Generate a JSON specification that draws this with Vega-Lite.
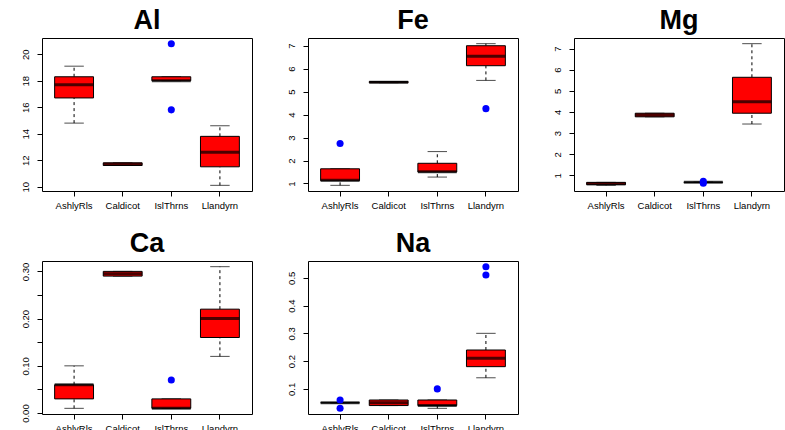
{
  "$schema": "https://vega.github.io/schema/vega-lite/v6.json",
  "padding": {"left": 19, "top": 6, "right": 0, "bottom": 0},
  "background": "white",
  "datasets": {
    "boxes": [
      {"el": "Al", "site": "AshlyRls", "lo": 14.8, "q1": 16.7, "med": 17.7, "q3": 18.3, "hi": 19.1},
      {"el": "Al", "site": "Caldicot", "lo": 11.6, "q1": 11.6, "med": 11.7, "q3": 11.8, "hi": 11.8},
      {"el": "Al", "site": "IslThrns", "lo": 18.0, "q1": 18.0, "med": 18.0, "q3": 18.3, "hi": 18.3},
      {"el": "Al", "site": "Llandyrn", "lo": 10.1, "q1": 11.5, "med": 12.6, "q3": 13.8, "hi": 14.6},
      {"el": "Fe", "site": "AshlyRls", "lo": 0.92, "q1": 1.12, "med": 1.14, "q3": 1.64, "hi": 1.64},
      {"el": "Fe", "site": "Caldicot", "lo": 5.39, "q1": 5.39, "med": 5.415, "q3": 5.44, "hi": 5.44},
      {"el": "Fe", "site": "IslThrns", "lo": 1.28, "q1": 1.50, "med": 1.51, "q3": 1.88, "hi": 2.39},
      {"el": "Fe", "site": "Llandyrn", "lo": 5.49, "q1": 6.13, "med": 6.54, "q3": 7.00, "hi": 7.09},
      {"el": "Mg", "site": "AshlyRls", "lo": 0.53, "q1": 0.56, "med": 0.60, "q3": 0.67, "hi": 0.67},
      {"el": "Mg", "site": "Caldicot", "lo": 3.77, "q1": 3.77, "med": 3.855, "q3": 3.94, "hi": 3.94},
      {"el": "Mg", "site": "IslThrns", "lo": 0.67, "q1": 0.67, "med": 0.67, "q3": 0.68, "hi": 0.68},
      {"el": "Mg", "site": "Llandyrn", "lo": 3.43, "q1": 3.94, "med": 4.485, "q3": 5.64, "hi": 7.23},
      {"el": "Ca", "site": "AshlyRls", "lo": 0.01, "q1": 0.03, "med": 0.06, "q3": 0.06, "hi": 0.10},
      {"el": "Ca", "site": "Caldicot", "lo": 0.29, "q1": 0.29, "med": 0.295, "q3": 0.30, "hi": 0.30},
      {"el": "Ca", "site": "IslThrns", "lo": 0.01, "q1": 0.01, "med": 0.01, "q3": 0.03, "hi": 0.03},
      {"el": "Ca", "site": "Llandyrn", "lo": 0.12, "q1": 0.16, "med": 0.20, "q3": 0.22, "hi": 0.31},
      {"el": "Na", "site": "AshlyRls", "lo": 0.05, "q1": 0.05, "med": 0.05, "q3": 0.05, "hi": 0.05},
      {"el": "Na", "site": "Caldicot", "lo": 0.04, "q1": 0.04, "med": 0.05, "q3": 0.06, "hi": 0.06},
      {"el": "Na", "site": "IslThrns", "lo": 0.03, "q1": 0.04, "med": 0.04, "q3": 0.06, "hi": 0.06},
      {"el": "Na", "site": "Llandyrn", "lo": 0.14, "q1": 0.18, "med": 0.21, "q3": 0.24, "hi": 0.30}
    ],
    "outliers": [
      {"el": "Al", "site": "IslThrns", "value": 15.8},
      {"el": "Al", "site": "IslThrns", "value": 20.8},
      {"el": "Fe", "site": "AshlyRls", "value": 2.74},
      {"el": "Fe", "site": "Llandyrn", "value": 4.26},
      {"el": "Mg", "site": "IslThrns", "value": 0.63},
      {"el": "Mg", "site": "IslThrns", "value": 0.72},
      {"el": "Ca", "site": "IslThrns", "value": 0.07},
      {"el": "Na", "site": "AshlyRls", "value": 0.03},
      {"el": "Na", "site": "AshlyRls", "value": 0.06},
      {"el": "Na", "site": "IslThrns", "value": 0.10},
      {"el": "Na", "site": "Llandyrn", "value": 0.51},
      {"el": "Na", "site": "Llandyrn", "value": 0.54}
    ]
  },
  "columns": 3,
  "bounds": "flush",
  "spacing": {"row": 70, "column": 56},
  "concat": [
    {
      "width": 210, "height": 153, "title": "Al",
      "layer": [
        {"data": {"name": "boxes"}, "transform": [{"filter": "datum.el == 'Al'"}], "mark": {"type": "rule", "strokeDash": [3, 3], "color": "black"},
         "encoding": {"x": {"field": "site", "type": "nominal", "title": null, "sort": ["AshlyRls", "Caldicot", "IslThrns", "Llandyrn"], "scale": {"paddingInner": 0.2, "paddingOuter": 0.26}, "axis": {"labelAngle": 0, "labelOverlap": false}},
                      "y": {"field": "lo", "type": "quantitative", "title": null, "scale": {"domain": [9.672, 21.228], "nice": false, "zero": false}, "axis": {"values": [10, 12, 14, 16, 18, 20], "tickCount": 50, "format": "d", "labelOverlap": false}}, "y2": {"field": "q1"}}},
        {"data": {"name": "boxes"}, "transform": [{"filter": "datum.el == 'Al'"}], "mark": {"type": "rule", "strokeDash": [3, 3], "color": "black"},
         "encoding": {"x": {"field": "site", "type": "nominal", "title": null, "sort": ["AshlyRls", "Caldicot", "IslThrns", "Llandyrn"]}, "y": {"field": "q3", "type": "quantitative", "title": null}, "y2": {"field": "hi"}}},
        {"data": {"name": "boxes"}, "transform": [{"filter": "datum.el == 'Al'"}], "mark": {"type": "tick", "size": 19.44, "thickness": 1, "color": "black"},
         "encoding": {"x": {"field": "site", "type": "nominal", "title": null, "sort": ["AshlyRls", "Caldicot", "IslThrns", "Llandyrn"]}, "y": {"field": "lo", "type": "quantitative", "title": null}}},
        {"data": {"name": "boxes"}, "transform": [{"filter": "datum.el == 'Al'"}], "mark": {"type": "tick", "size": 19.44, "thickness": 1, "color": "black"},
         "encoding": {"x": {"field": "site", "type": "nominal", "title": null, "sort": ["AshlyRls", "Caldicot", "IslThrns", "Llandyrn"]}, "y": {"field": "hi", "type": "quantitative", "title": null}}},
        {"data": {"name": "boxes"}, "transform": [{"filter": "datum.el == 'Al'"}], "mark": {"type": "bar", "fill": "#ff0000", "stroke": "black", "strokeWidth": 1},
         "encoding": {"x": {"field": "site", "type": "nominal", "title": null, "sort": ["AshlyRls", "Caldicot", "IslThrns", "Llandyrn"]}, "y": {"field": "q1", "type": "quantitative", "title": null}, "y2": {"field": "q3"}}},
        {"data": {"name": "boxes"}, "transform": [{"filter": "datum.el == 'Al'"}], "mark": {"type": "tick", "size": 38.89, "thickness": 3, "color": "black"},
         "encoding": {"x": {"field": "site", "type": "nominal", "title": null, "sort": ["AshlyRls", "Caldicot", "IslThrns", "Llandyrn"]}, "y": {"field": "med", "type": "quantitative", "title": null}}},
        {"data": {"name": "outliers"}, "transform": [{"filter": "datum.el == 'Al'"}], "mark": {"type": "circle", "size": 50, "color": "#0000ff", "opacity": 1},
         "encoding": {"x": {"field": "site", "type": "nominal", "title": null, "sort": ["AshlyRls", "Caldicot", "IslThrns", "Llandyrn"]}, "y": {"field": "value", "type": "quantitative", "title": null}}}
      ]
    },
    {
      "width": 210, "height": 153, "title": "Fe",
      "layer": [
        {"data": {"name": "boxes"}, "transform": [{"filter": "datum.el == 'Fe'"}], "mark": {"type": "rule", "strokeDash": [3, 3], "color": "black"},
         "encoding": {"x": {"field": "site", "type": "nominal", "title": null, "sort": ["AshlyRls", "Caldicot", "IslThrns", "Llandyrn"], "scale": {"paddingInner": 0.2, "paddingOuter": 0.26}, "axis": {"labelAngle": 0, "labelOverlap": false}},
                      "y": {"field": "lo", "type": "quantitative", "title": null, "scale": {"domain": [0.6732, 7.3368], "nice": false, "zero": false}, "axis": {"values": [1, 2, 3, 4, 5, 6, 7], "tickCount": 50, "format": "d", "labelOverlap": false}}, "y2": {"field": "q1"}}},
        {"data": {"name": "boxes"}, "transform": [{"filter": "datum.el == 'Fe'"}], "mark": {"type": "rule", "strokeDash": [3, 3], "color": "black"},
         "encoding": {"x": {"field": "site", "type": "nominal", "title": null, "sort": ["AshlyRls", "Caldicot", "IslThrns", "Llandyrn"]}, "y": {"field": "q3", "type": "quantitative", "title": null}, "y2": {"field": "hi"}}},
        {"data": {"name": "boxes"}, "transform": [{"filter": "datum.el == 'Fe'"}], "mark": {"type": "tick", "size": 19.44, "thickness": 1, "color": "black"},
         "encoding": {"x": {"field": "site", "type": "nominal", "title": null, "sort": ["AshlyRls", "Caldicot", "IslThrns", "Llandyrn"]}, "y": {"field": "lo", "type": "quantitative", "title": null}}},
        {"data": {"name": "boxes"}, "transform": [{"filter": "datum.el == 'Fe'"}], "mark": {"type": "tick", "size": 19.44, "thickness": 1, "color": "black"},
         "encoding": {"x": {"field": "site", "type": "nominal", "title": null, "sort": ["AshlyRls", "Caldicot", "IslThrns", "Llandyrn"]}, "y": {"field": "hi", "type": "quantitative", "title": null}}},
        {"data": {"name": "boxes"}, "transform": [{"filter": "datum.el == 'Fe'"}], "mark": {"type": "bar", "fill": "#ff0000", "stroke": "black", "strokeWidth": 1},
         "encoding": {"x": {"field": "site", "type": "nominal", "title": null, "sort": ["AshlyRls", "Caldicot", "IslThrns", "Llandyrn"]}, "y": {"field": "q1", "type": "quantitative", "title": null}, "y2": {"field": "q3"}}},
        {"data": {"name": "boxes"}, "transform": [{"filter": "datum.el == 'Fe'"}], "mark": {"type": "tick", "size": 38.89, "thickness": 3, "color": "black"},
         "encoding": {"x": {"field": "site", "type": "nominal", "title": null, "sort": ["AshlyRls", "Caldicot", "IslThrns", "Llandyrn"]}, "y": {"field": "med", "type": "quantitative", "title": null}}},
        {"data": {"name": "outliers"}, "transform": [{"filter": "datum.el == 'Fe'"}], "mark": {"type": "circle", "size": 50, "color": "#0000ff", "opacity": 1},
         "encoding": {"x": {"field": "site", "type": "nominal", "title": null, "sort": ["AshlyRls", "Caldicot", "IslThrns", "Llandyrn"]}, "y": {"field": "value", "type": "quantitative", "title": null}}}
      ]
    },
    {
      "width": 210, "height": 153, "title": "Mg",
      "layer": [
        {"data": {"name": "boxes"}, "transform": [{"filter": "datum.el == 'Mg'"}], "mark": {"type": "rule", "strokeDash": [3, 3], "color": "black"},
         "encoding": {"x": {"field": "site", "type": "nominal", "title": null, "sort": ["AshlyRls", "Caldicot", "IslThrns", "Llandyrn"], "scale": {"paddingInner": 0.2, "paddingOuter": 0.26}, "axis": {"labelAngle": 0, "labelOverlap": false}},
                      "y": {"field": "lo", "type": "quantitative", "title": null, "scale": {"domain": [0.262, 7.498], "nice": false, "zero": false}, "axis": {"values": [1, 2, 3, 4, 5, 6, 7], "tickCount": 50, "format": "d", "labelOverlap": false}}, "y2": {"field": "q1"}}},
        {"data": {"name": "boxes"}, "transform": [{"filter": "datum.el == 'Mg'"}], "mark": {"type": "rule", "strokeDash": [3, 3], "color": "black"},
         "encoding": {"x": {"field": "site", "type": "nominal", "title": null, "sort": ["AshlyRls", "Caldicot", "IslThrns", "Llandyrn"]}, "y": {"field": "q3", "type": "quantitative", "title": null}, "y2": {"field": "hi"}}},
        {"data": {"name": "boxes"}, "transform": [{"filter": "datum.el == 'Mg'"}], "mark": {"type": "tick", "size": 19.44, "thickness": 1, "color": "black"},
         "encoding": {"x": {"field": "site", "type": "nominal", "title": null, "sort": ["AshlyRls", "Caldicot", "IslThrns", "Llandyrn"]}, "y": {"field": "lo", "type": "quantitative", "title": null}}},
        {"data": {"name": "boxes"}, "transform": [{"filter": "datum.el == 'Mg'"}], "mark": {"type": "tick", "size": 19.44, "thickness": 1, "color": "black"},
         "encoding": {"x": {"field": "site", "type": "nominal", "title": null, "sort": ["AshlyRls", "Caldicot", "IslThrns", "Llandyrn"]}, "y": {"field": "hi", "type": "quantitative", "title": null}}},
        {"data": {"name": "boxes"}, "transform": [{"filter": "datum.el == 'Mg'"}], "mark": {"type": "bar", "fill": "#ff0000", "stroke": "black", "strokeWidth": 1},
         "encoding": {"x": {"field": "site", "type": "nominal", "title": null, "sort": ["AshlyRls", "Caldicot", "IslThrns", "Llandyrn"]}, "y": {"field": "q1", "type": "quantitative", "title": null}, "y2": {"field": "q3"}}},
        {"data": {"name": "boxes"}, "transform": [{"filter": "datum.el == 'Mg'"}], "mark": {"type": "tick", "size": 38.89, "thickness": 3, "color": "black"},
         "encoding": {"x": {"field": "site", "type": "nominal", "title": null, "sort": ["AshlyRls", "Caldicot", "IslThrns", "Llandyrn"]}, "y": {"field": "med", "type": "quantitative", "title": null}}},
        {"data": {"name": "outliers"}, "transform": [{"filter": "datum.el == 'Mg'"}], "mark": {"type": "circle", "size": 50, "color": "#0000ff", "opacity": 1},
         "encoding": {"x": {"field": "site", "type": "nominal", "title": null, "sort": ["AshlyRls", "Caldicot", "IslThrns", "Llandyrn"]}, "y": {"field": "value", "type": "quantitative", "title": null}}}
      ]
    },
    {
      "width": 210, "height": 153, "title": "Ca",
      "layer": [
        {"data": {"name": "boxes"}, "transform": [{"filter": "datum.el == 'Ca'"}], "mark": {"type": "rule", "strokeDash": [3, 3], "color": "black"},
         "encoding": {"x": {"field": "site", "type": "nominal", "title": null, "sort": ["AshlyRls", "Caldicot", "IslThrns", "Llandyrn"], "scale": {"paddingInner": 0.2, "paddingOuter": 0.26}, "axis": {"labelAngle": 0, "labelOverlap": false}},
                      "y": {"field": "lo", "type": "quantitative", "title": null, "scale": {"domain": [-0.002, 0.322], "nice": false, "zero": false}, "axis": {"values": [0, 0.05, 0.1, 0.15, 0.2, 0.25, 0.3], "tickCount": 50, "labelOverlap": false, "labelExpr": "round(datum.value * 100) % 10 == 0 ? format(datum.value, '.2f') : ''"}}, "y2": {"field": "q1"}}},
        {"data": {"name": "boxes"}, "transform": [{"filter": "datum.el == 'Ca'"}], "mark": {"type": "rule", "strokeDash": [3, 3], "color": "black"},
         "encoding": {"x": {"field": "site", "type": "nominal", "title": null, "sort": ["AshlyRls", "Caldicot", "IslThrns", "Llandyrn"]}, "y": {"field": "q3", "type": "quantitative", "title": null}, "y2": {"field": "hi"}}},
        {"data": {"name": "boxes"}, "transform": [{"filter": "datum.el == 'Ca'"}], "mark": {"type": "tick", "size": 19.44, "thickness": 1, "color": "black"},
         "encoding": {"x": {"field": "site", "type": "nominal", "title": null, "sort": ["AshlyRls", "Caldicot", "IslThrns", "Llandyrn"]}, "y": {"field": "lo", "type": "quantitative", "title": null}}},
        {"data": {"name": "boxes"}, "transform": [{"filter": "datum.el == 'Ca'"}], "mark": {"type": "tick", "size": 19.44, "thickness": 1, "color": "black"},
         "encoding": {"x": {"field": "site", "type": "nominal", "title": null, "sort": ["AshlyRls", "Caldicot", "IslThrns", "Llandyrn"]}, "y": {"field": "hi", "type": "quantitative", "title": null}}},
        {"data": {"name": "boxes"}, "transform": [{"filter": "datum.el == 'Ca'"}], "mark": {"type": "bar", "fill": "#ff0000", "stroke": "black", "strokeWidth": 1},
         "encoding": {"x": {"field": "site", "type": "nominal", "title": null, "sort": ["AshlyRls", "Caldicot", "IslThrns", "Llandyrn"]}, "y": {"field": "q1", "type": "quantitative", "title": null}, "y2": {"field": "q3"}}},
        {"data": {"name": "boxes"}, "transform": [{"filter": "datum.el == 'Ca'"}], "mark": {"type": "tick", "size": 38.89, "thickness": 3, "color": "black"},
         "encoding": {"x": {"field": "site", "type": "nominal", "title": null, "sort": ["AshlyRls", "Caldicot", "IslThrns", "Llandyrn"]}, "y": {"field": "med", "type": "quantitative", "title": null}}},
        {"data": {"name": "outliers"}, "transform": [{"filter": "datum.el == 'Ca'"}], "mark": {"type": "circle", "size": 50, "color": "#0000ff", "opacity": 1},
         "encoding": {"x": {"field": "site", "type": "nominal", "title": null, "sort": ["AshlyRls", "Caldicot", "IslThrns", "Llandyrn"]}, "y": {"field": "value", "type": "quantitative", "title": null}}}
      ]
    },
    {
      "width": 210, "height": 153, "title": "Na",
      "layer": [
        {"data": {"name": "boxes"}, "transform": [{"filter": "datum.el == 'Na'"}], "mark": {"type": "rule", "strokeDash": [3, 3], "color": "black"},
         "encoding": {"x": {"field": "site", "type": "nominal", "title": null, "sort": ["AshlyRls", "Caldicot", "IslThrns", "Llandyrn"], "scale": {"paddingInner": 0.2, "paddingOuter": 0.26}, "axis": {"labelAngle": 0, "labelOverlap": false}},
                      "y": {"field": "lo", "type": "quantitative", "title": null, "scale": {"domain": [0.0096, 0.5604], "nice": false, "zero": false}, "axis": {"values": [0.1, 0.2, 0.3, 0.4, 0.5], "tickCount": 50, "format": ".1f", "labelOverlap": false}}, "y2": {"field": "q1"}}},
        {"data": {"name": "boxes"}, "transform": [{"filter": "datum.el == 'Na'"}], "mark": {"type": "rule", "strokeDash": [3, 3], "color": "black"},
         "encoding": {"x": {"field": "site", "type": "nominal", "title": null, "sort": ["AshlyRls", "Caldicot", "IslThrns", "Llandyrn"]}, "y": {"field": "q3", "type": "quantitative", "title": null}, "y2": {"field": "hi"}}},
        {"data": {"name": "boxes"}, "transform": [{"filter": "datum.el == 'Na'"}], "mark": {"type": "tick", "size": 19.44, "thickness": 1, "color": "black"},
         "encoding": {"x": {"field": "site", "type": "nominal", "title": null, "sort": ["AshlyRls", "Caldicot", "IslThrns", "Llandyrn"]}, "y": {"field": "lo", "type": "quantitative", "title": null}}},
        {"data": {"name": "boxes"}, "transform": [{"filter": "datum.el == 'Na'"}], "mark": {"type": "tick", "size": 19.44, "thickness": 1, "color": "black"},
         "encoding": {"x": {"field": "site", "type": "nominal", "title": null, "sort": ["AshlyRls", "Caldicot", "IslThrns", "Llandyrn"]}, "y": {"field": "hi", "type": "quantitative", "title": null}}},
        {"data": {"name": "boxes"}, "transform": [{"filter": "datum.el == 'Na'"}], "mark": {"type": "bar", "fill": "#ff0000", "stroke": "black", "strokeWidth": 1},
         "encoding": {"x": {"field": "site", "type": "nominal", "title": null, "sort": ["AshlyRls", "Caldicot", "IslThrns", "Llandyrn"]}, "y": {"field": "q1", "type": "quantitative", "title": null}, "y2": {"field": "q3"}}},
        {"data": {"name": "boxes"}, "transform": [{"filter": "datum.el == 'Na'"}], "mark": {"type": "tick", "size": 38.89, "thickness": 3, "color": "black"},
         "encoding": {"x": {"field": "site", "type": "nominal", "title": null, "sort": ["AshlyRls", "Caldicot", "IslThrns", "Llandyrn"]}, "y": {"field": "med", "type": "quantitative", "title": null}}},
        {"data": {"name": "outliers"}, "transform": [{"filter": "datum.el == 'Na'"}], "mark": {"type": "circle", "size": 50, "color": "#0000ff", "opacity": 1},
         "encoding": {"x": {"field": "site", "type": "nominal", "title": null, "sort": ["AshlyRls", "Caldicot", "IslThrns", "Llandyrn"]}, "y": {"field": "value", "type": "quantitative", "title": null}}}
      ]
    }
  ],
  "config": {
    "view": {"stroke": "black", "strokeWidth": 1},
    "axis": {"domain": false, "grid": false, "tickColor": "black", "tickSize": 5, "labelColor": "black", "labelFont": "Liberation Sans", "labelFontSize": 9.5, "labelPadding": 7, "labelOverlap": false, "labelFlush": false},
    "axisX": {"labelPadding": 4},
    "axisY": {"labelAngle": 270, "labelAlign": "center", "labelBaseline": "bottom"},
    "title": {"font": "Liberation Sans", "fontSize": 27, "fontWeight": "bold", "color": "black", "frame": "group", "anchor": "middle", "baseline": "alphabetic", "offset": 3}
  }
}
